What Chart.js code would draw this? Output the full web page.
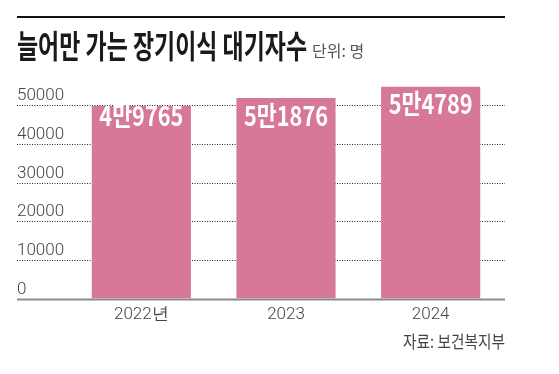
<!DOCTYPE html>
<html>
<head>
<meta charset="utf-8">
<script src="https://cdn.jsdelivr.net/npm/chart.js@4.4.1/dist/chart.umd.min.js"></script>
<style>
  html, body { margin: 0; padding: 0; background: #fff; }
  #wrap { width: 559px; height: 374px; position: relative; }
</style>
</head>
<body>
<div id="wrap"><canvas id="c"></canvas></div>
<script>
// chart data
const years = ['2022년', '2023', '2024'];
const waiting = [49765, 51876, 54789];
const barText = ['4만9765', '5만1876', '5만4789'];
const yTicks = [0, 10000, 20000, 30000, 40000, 50000];

const TITLE = '늘어만 가는 장기이식 대기자수';
const UNIT = '단위: 명';
const SOURCE = '자료: 보건복지부';

const PINK = '#d77896';
const KR = '"Noto Sans CJK KR", "Noto Sans", sans-serif';
const NUM = 'Roboto, "Liberation Sans", sans-serif';
const LEFT = 17, RIGHT = 505;

// how far below each bar top the white label sits
const labelDrop = [10, 18, 17];

// draw text squeezed to a given width (the original uses a condensed face)
function fitText(ctx, text, x, y, width, align) {
  const w = ctx.measureText(text).width;
  const sx = Math.min(1, width / w);
  ctx.save();
  let ox = x;
  if (align === 'center') ox = x - (w * sx) / 2;
  else if (align === 'right') ox = x - w * sx;
  ctx.translate(ox, y);
  ctx.scale(sx, 1);
  ctx.textAlign = 'left';
  ctx.fillText(text, 0, 0);
  ctx.restore();
}

const decor = {
  id: 'decor',
  beforeDatasetsDraw(chart) {
    const ctx = chart.ctx;
    const y = chart.scales.y;
    ctx.save();
    ctx.strokeStyle = '#222';
    ctx.lineWidth = 1;
    ctx.setLineDash([1, 1.5]);
    yTicks.forEach(v => {
      if (v === 0) return;
      const py = Math.round(y.getPixelForValue(v)) + 0.5;
      ctx.beginPath();
      ctx.moveTo(LEFT, py);
      ctx.lineTo(RIGHT, py);
      ctx.stroke();
    });
    ctx.restore();
  },
  afterDatasetsDraw(chart) {
    const ctx = chart.ctx;
    const y = chart.scales.y;
    ctx.save();
    // baseline
    ctx.strokeStyle = '#8a8a8a';
    ctx.lineWidth = 2;
    const by = y.getPixelForValue(0) + 1;
    ctx.beginPath();
    ctx.moveTo(LEFT, by);
    ctx.lineTo(RIGHT, by);
    ctx.stroke();

    // top rule
    ctx.strokeStyle = '#111';
    ctx.lineWidth = 2;
    ctx.beginPath();
    ctx.moveTo(LEFT, 17);
    ctx.lineTo(RIGHT, 17);
    ctx.stroke();

    // title + unit
    ctx.fillStyle = '#1a1a1a';
    ctx.textBaseline = 'alphabetic';
    ctx.font = 'bold 32px ' + KR;
    fitText(ctx, TITLE, LEFT, 58, 290, 'left');
    ctx.fillStyle = '#555';
    ctx.font = '16px ' + KR;
    fitText(ctx, UNIT, 312, 57, 53, 'left');

    // source
    ctx.fillStyle = '#444';
    ctx.font = '17px ' + KR;
    ctx.textBaseline = 'middle';
    fitText(ctx, SOURCE, RIGHT, 342, 102, 'right');

    // value labels inside bars
    const meta = chart.getDatasetMeta(0);
    ctx.fillStyle = '#fff';
    ctx.font = 'bold 27px ' + KR;
    ctx.textBaseline = 'middle';
    meta.data.forEach((bar, i) => {
      fitText(ctx, barText[i], bar.x, bar.y + labelDrop[i], 84, 'center');
    });
    ctx.restore();
  }
};

new Chart(document.getElementById('c'), {
  type: 'bar',
  data: {
    labels: years,
    datasets: [{
      data: waiting,
      backgroundColor: PINK,
      borderWidth: 0,
      categoryPercentage: 1,
      barPercentage: 0.685
    }]
  },
  options: {
    responsive: true,
    maintainAspectRatio: false,
    animation: false,
    layout: { padding: { left: LEFT, right: 56, top: 82, bottom: 43 } },
    plugins: { legend: { display: false }, tooltip: { enabled: false } },
    scales: {
      x: {
        grid: { display: false, drawTicks: false },
        border: { display: false },
        ticks: { color: '#444', font: { family: NUM, size: 17, weight: 300 }, padding: 6 }
      },
      y: {
        min: 0,
        max: 56000,
        afterBuildTicks(scale) { scale.ticks = yTicks.map(v => ({ value: v })); },
        afterFit(scale) { scale.width = 52; },
        grid: { display: false, drawTicks: false },
        border: { display: false },
        ticks: {
          color: '#444',
          font: { family: NUM, size: 17, weight: 300 },
          crossAlign: 'far',
          labelOffset: -9,
          padding: 0,
          callback: v => String(v)
        }
      }
    }
  },
  plugins: [decor]
});
</script>
</body>
</html>
